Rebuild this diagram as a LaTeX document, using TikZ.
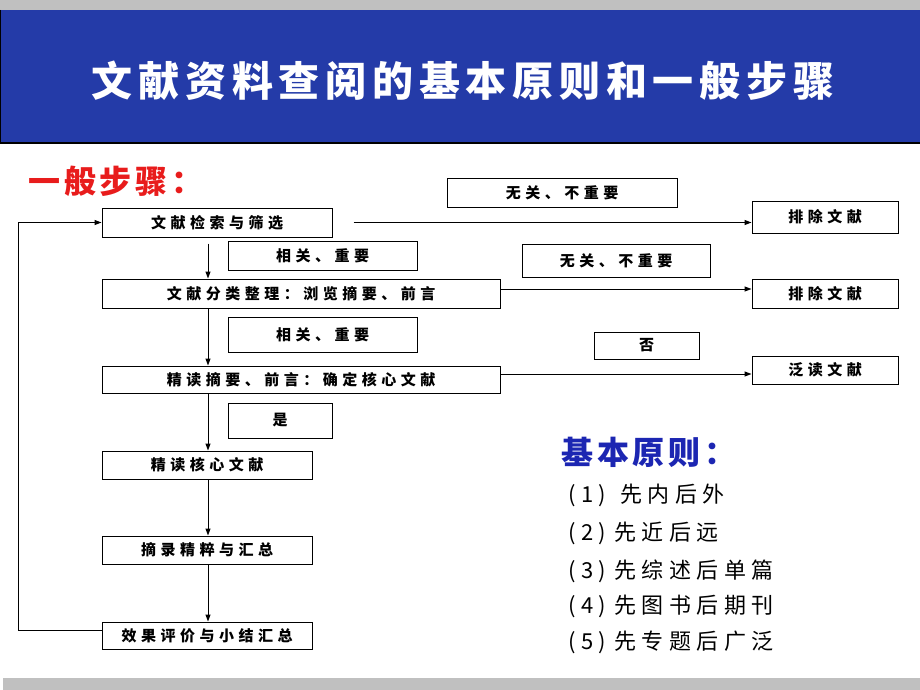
\documentclass[tikz,border=0pt]{standalone}
\usepackage{fontspec}
\usetikzlibrary{arrows.meta}
\newfontfamily\titlefont[LetterSpace=14]{Noto Sans CJK SC}
\newfontfamily\boxfont[LetterSpace=30]{Noto Sans CJK SC}
\newfontfamily\headfont[LetterSpace=12]{Noto Sans CJK SC}
\newfontfamily\itemfont[LetterSpace=25]{Noto Sans CJK SC}
\definecolor{barblue}{RGB}{36,59,168}
\definecolor{bargray}{RGB}{192,192,192}
\definecolor{headred}{RGB}{232,28,28}
\definecolor{headblue}{RGB}{28,38,178}
\tikzset{
  stepbox/.style={draw=black, line width=1pt, inner sep=0pt, font=\boxfont\bfseries\fontsize{15}{18}\selectfont},
  arr/.style={-{Triangle[length=7pt,width=5pt]}, line width=1pt},
  itemtext/.style={anchor=west, inner sep=0pt, font=\itemfont\fontsize{22}{24}\selectfont},
}
\begin{document}
\begin{tikzpicture}[x=1pt,y=-1pt]
\useasboundingbox (0,0) rectangle (920,690);
\fill[bargray] (0,0) rectangle (920,10);
\fill[barblue] (0,10) rectangle (920,143);
\draw[line width=1.2pt] (0.6,10) -- (0.6,143) -- (920,143);
\node[text=white, inner sep=0pt, font=\titlefont\bfseries\fontsize{41}{46}\selectfont] (title) at (463,81) {文献资料查阅的基本原则和一般步骤};
\fill[bargray] (3,678) rectangle (920,690);

\node[anchor=west, inner sep=0pt, text=headred, font=\headfont\bfseries\fontsize{32}{36}\selectfont] (h1) at (28,181) {一般步骤：};

% left column
\node[stepbox, minimum width=230pt, minimum height=29pt] (b1) at (217,222.5) {文献检索与筛选};
\node[stepbox, minimum width=189pt, minimum height=29pt] (l1) at (322.5,255.5) {相关、重要};
\node[stepbox, minimum width=398pt, minimum height=29pt] (b2) at (301,293.5) {文献分类整理：浏览摘要、前言};
\node[stepbox, minimum width=189pt, minimum height=35pt] (l2) at (322.5,334.5) {相关、重要};
\node[stepbox, minimum width=398pt, minimum height=27pt] (b3) at (301,379.5) {精读摘要、前言：确定核心文献};
\node[stepbox, minimum width=104pt, minimum height=35pt] (l3) at (280,420.5) {是};
\node[stepbox, minimum width=210pt, minimum height=28pt] (b4) at (207,465) {精读核心文献};
\node[stepbox, minimum width=210pt, minimum height=28pt] (b5) at (207,550) {摘录精粹与汇总};
\node[stepbox, minimum width=210pt, minimum height=27pt] (b6) at (207,635.5) {效果评价与小结汇总};

% right column
\node[stepbox, minimum width=230pt, minimum height=29pt] (n1) at (562,192.5) {无关、不重要};
\node[stepbox, minimum width=146pt, minimum height=32pt] (e1) at (825,217) {排除文献};
\node[stepbox, minimum width=188pt, minimum height=33pt] (n2) at (616,260.5) {无关、不重要};
\node[stepbox, minimum width=146pt, minimum height=29pt] (e2) at (825,293.5) {排除文献};
\node[stepbox, minimum width=105pt, minimum height=27pt] (n3) at (646.5,345.5) {否};
\node[stepbox, minimum width=146pt, minimum height=28pt] (e3) at (825,370) {泛读文献};

% vertical arrows
\coordinate (ax) at (208,0);
\coordinate (lx) at (18,400);
\draw[arr] ([yshift=-6pt]b1.south -| ax) -- (b2.north -| ax);
\draw[arr] (b2.south -| ax) -- (b3.north -| ax);
\draw[arr] (b3.south -| ax) -- (b4.north -| ax);
\draw[arr] (b4.south -| ax) -- (b5.north -| ax);
\draw[arr] (b5.south -| ax) -- (b6.north -| ax);

% horizontal arrows
\draw[arr] ([xshift=21pt]b1.east) -- (b1.east -| e1.west);
\draw[arr] ([yshift=4.5pt]b2.east) -- ([yshift=4.5pt]b2.east -| e2.west);
\draw[arr] ([yshift=5.5pt]b3.east) -- ([yshift=5.5pt]b3.east -| e3.west);

% loop back
\draw[arr] ([yshift=5pt]b6.west) -- ([yshift=5pt]b6.west -| lx) |- (b1.west);

% principles
\node[anchor=west, inner sep=0pt, text=headblue, font=\headfont\bfseries\fontsize{32}{36}\selectfont] (h2) at (561,452) {基本原则：};
\node[itemtext] (p1) at (568,495) {(1)\hspace{14pt}先内后外};
\node[itemtext] (p2) at (568,533) {(2)\hspace{8pt}先近后远};
\node[itemtext] (p3) at (568,571) {(3)\hspace{8pt}先综述后单篇};
\node[itemtext] (p4) at (568,606) {(4)\hspace{8pt}先图书后期刊};
\node[itemtext] (p5) at (568,642) {(5)\hspace{8pt}先专题后广泛};
\end{tikzpicture}
\end{document}
